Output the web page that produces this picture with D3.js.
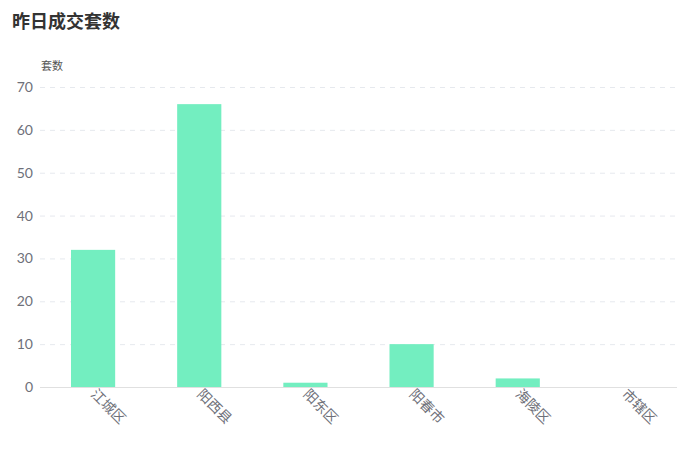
<!DOCTYPE html>
<html><head><meta charset="utf-8">
<script src="https://cdn.jsdelivr.net/npm/d3@7/dist/d3.min.js"></script>
<style>body{margin:0;background:#fff;}svg{display:block;font-family:"Noto Sans CJK SC","Microsoft YaHei",sans-serif;}</style>
</head><body><svg id="c" width="692" height="467"></svg>
<script>
const categories = ["江城区","阳西县","阳东区","阳春市","海陵区","市辖区"];
const values = [32, 66, 1, 10, 2, 0];
const yTicks = [0,10,20,30,40,50,60,70];
const title = "昨日成交套数";
const yName = "套数";

const svg = d3.select("#c");
const m = {left:40, right:677, top:87, bottom:387};
const x = d3.scaleBand().domain(categories).range([m.left, m.right]).paddingInner(0.584).paddingOuter(0.292);
const xc = d3.scaleBand().domain(categories).range([m.left, m.right]);
const y = d3.scaleLinear().domain([0,70]).range([m.bottom, m.top]);

svg.append("text").attr("x",12).attr("y",28).attr("font-size",18).attr("font-weight","bold").attr("fill","#333").text(title);
svg.append("text").attr("x",41).attr("y",70).attr("font-size",11).attr("fill","#555").text(yName);

// grid
svg.append("g").selectAll("line").data(yTicks.filter(d=>d>0)).join("line")
  .attr("x1",m.left).attr("x2",m.right).attr("y1",d=>y(d)+0.5).attr("y2",d=>y(d)+0.5)
  .attr("stroke","#E6E9EE").attr("stroke-dasharray","5,5");
// y labels
svg.append("g").selectAll("text").data(yTicks).join("text")
  .attr("x",33).attr("y",d=>y(d)+5).attr("text-anchor","end").attr("font-size",14)
  .attr("fill","#6E7079").attr("font-family","Lato, sans-serif").text(d=>d);
// bars
svg.append("g").selectAll("rect").data(values).join("rect")
  .attr("x",(d,i)=>x(categories[i])).attr("width",x.bandwidth())
  .attr("y",d=>y(d)).attr("height",d=>m.bottom-y(d)).attr("fill","#73EEC0");
// x axis line
svg.append("line").attr("x1",m.left).attr("x2",m.right).attr("y1",m.bottom+0.5).attr("y2",m.bottom+0.5).attr("stroke","#E0E0E0");
// x labels
svg.append("g").selectAll("text").data(categories).join("text")
  .attr("transform",d=>`translate(${xc(d)+xc.bandwidth()/2-3},${m.bottom+8}) rotate(45)`)
  .attr("font-size",14).attr("fill","#6E7079").text(d=>d);
</script></body></html>
